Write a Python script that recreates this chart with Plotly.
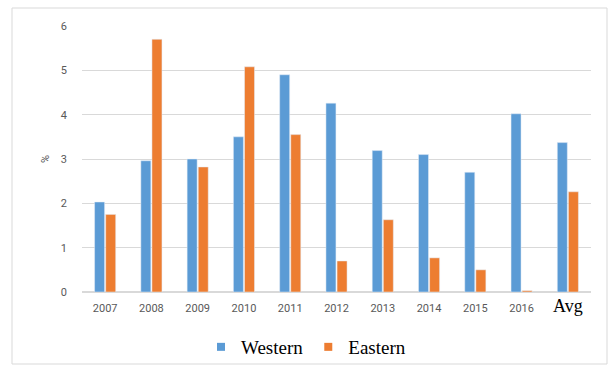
import plotly.graph_objects as go

categories = ["2007", "2008", "2009", "2010", "2011", "2012", "2013", "2014", "2015", "2016", "Avg"]
western = [2.03, 2.96, 3.0, 3.5, 4.9, 4.26, 3.19, 3.1, 2.7, 4.02, 3.37]
eastern = [1.75, 5.7, 2.82, 5.08, 3.55, 0.7, 1.63, 0.77, 0.5, 0.03, 2.26]
y_ticks = [0, 1, 2, 3, 4, 5, 6]

blue, orange = "#5B9BD5", "#ED7D31"

tick_text = [c if c != "Avg" else
             "<span style='font-family:Liberation Serif;font-size:18px;color:#000000'>Avg</span>"
             for c in categories]

fig = go.Figure()
fig.add_trace(go.Bar(x=categories, y=western, name="Western", marker_color=blue, showlegend=False))
fig.add_trace(go.Bar(x=categories, y=eastern, name="Eastern", marker_color=orange, showlegend=False))
# legend entries with small square symbols
fig.add_trace(go.Scatter(x=[None], y=[None], mode="markers", name="Western",
                         marker=dict(symbol="square", size=8, color=blue)))
fig.add_trace(go.Scatter(x=[None], y=[None], mode="markers", name="Eastern",
                         marker=dict(symbol="square", size=8, color=orange)))

L, R, T, B = 82, 23, 26, 73
W, H = 614, 365
pw, ph = W - L - R, H - T - B

def px(x):
    return (x - L) / pw

def py(y):
    return (H - B - y) / ph

fig.update_layout(
    width=W, height=H,
    margin=dict(l=L, r=R, t=T, b=B, autoexpand=False),
    paper_bgcolor="white", plot_bgcolor="white",
    barmode="group", bargap=0.52, bargroupgap=0.1,
    font=dict(family="Roboto, sans-serif", size=11, color="#595959"),
    xaxis=dict(tickmode="array", tickvals=categories, ticktext=tick_text, automargin=False,
               showgrid=False, showline=False, ticks="", ticklabelstandoff=8,
               tickfont=dict(size=11, color="#595959")),
    yaxis=dict(range=[0, 6], tickvals=y_ticks, showgrid=True, gridcolor="#D9D9D9", automargin=False,
               zeroline=True, zerolinecolor="#D9D9D9", showline=False, ticks="",
               ticklabelstandoff=14,
               title=dict(text="%", font=dict(size=11, color="#595959"), standoff=8)),
    legend=dict(orientation="h", x=px(306), xanchor="center", y=py(347), yanchor="middle",
                bgcolor="rgba(0,0,0,0)",
                font=dict(family="Liberation Serif, serif", size=19, color="#000000"),
                itemwidth=30, tracegroupgap=0),
    shapes=[dict(type="rect", xref="paper", yref="paper",
                 x0=px(12), x1=px(607), y0=py(364), y1=py(8),
                 line=dict(color="#D9D9D9", width=1), fillcolor="rgba(0,0,0,0)", layer="below")],
)

fig.write_html("out.html")
